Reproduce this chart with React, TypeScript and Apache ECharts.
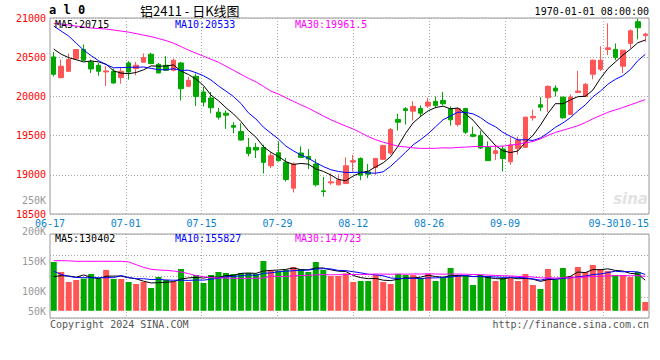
import React, { useEffect, useRef } from 'react';
import * as echarts from 'echarts';

// ---- data ----
const dates = [
  '06-17','06-18','06-19','06-20','06-21','06-24','06-25','06-26','06-27','06-28',
  '07-01','07-02','07-03','07-04','07-05','07-08','07-09','07-10','07-11','07-12',
  '07-15','07-16','07-17','07-18','07-19','07-22','07-23','07-24','07-25','07-26',
  '07-29','07-30','07-31','08-01','08-02','08-05','08-06','08-07','08-08','08-09',
  '08-12','08-13','08-14','08-15','08-16','08-19','08-20','08-21','08-22','08-23',
  '08-26','08-27','08-28','08-29','08-30','09-02','09-03','09-04','09-05','09-06',
  '09-09','09-10','09-11','09-12','09-13','09-18','09-19','09-20','09-23','09-24',
  '09-25','09-26','09-27','09-30','10-08','10-09','10-10','10-11','10-14','10-15'
];

const opens = [
  20504,20239,20320,20479,20598,20440,20397,20312,20320,20239,
  20427,20355,20436,20538,20410,20397,20333,20427,20128,20256,
  20056,19979,19799,19786,19628,19551,19350,19350,19350,19115,
  19282,19158,18829,19278,19235,19137,18795,18897,18872,18889,
  19162,19209,19038,19094,19197,19278,19705,19842,19812,19846,
  19876,19936,19949,19842,19641,19846,19513,19500,19350,19273,
  19329,19167,19337,19350,19727,19894,19983,20106,19991,19769,
  20051,20000,20282,20346,20599,20599,20385,20676,20953,20778
];
const closes = [
  20282,20385,20470,20598,20461,20350,20320,20325,20171,20320,
  20312,20397,20496,20419,20299,20333,20461,20098,20205,20000,
  19927,19855,19735,19761,19607,19444,19273,19316,19158,19244,
  19180,18940,19137,19222,19201,18872,18786,18910,18936,19115,
  19180,18995,19008,19209,19372,19577,19671,19821,19872,19786,
  19927,19885,19906,19701,19842,19543,19491,19342,19180,19307,
  19209,19381,19445,19735,19744,19863,20128,20068,19727,19991,
  20068,20154,20462,20462,20619,20496,20590,20837,20876,20795
];
const lows = [
  20256,20231,20312,20474,20449,20299,20265,20133,20162,20162,
  20214,20269,20436,20410,20291,20325,20320,19949,20128,19876,
  19872,19786,19705,19585,19530,19436,19235,19214,19017,19085,
  19167,18914,18774,19214,19073,18850,18722,18872,18863,18880,
  19043,18932,18957,18999,19188,19256,19564,19641,19692,19735,
  19855,19850,19885,19628,19615,19521,19479,19329,19180,19188,
  19042,19128,19256,19342,19692,19812,19799,20000,19714,19769,
  20042,20000,20218,20324,20526,20462,20299,20612,20727,20696
];
const highs = [
  20568,20470,20547,20600,20662,20470,20427,20385,20355,20363,
  20449,20440,20547,20556,20427,20513,20483,20440,20248,20291,
  20120,20056,19855,19821,19671,19658,19470,19406,19384,19286,
  19427,19214,19158,19363,19329,19201,18974,19017,19008,19222,
  19256,19222,19137,19209,19384,19598,19778,19863,19940,19885,
  19983,20000,20056,19872,19855,19855,19615,19564,19427,19384,
  19372,19478,19487,19744,19829,19991,20141,20141,19991,20026,
  20324,20171,20471,20641,20932,20676,20590,20855,20990,20812
];
const volumes = [
  148300,131700,115000,118300,120600,128300,120600,135000,120000,120000,
  115000,111700,115000,105000,123300,118300,116100,136700,115000,126700,
  113300,126700,131700,130000,128300,130000,130000,128300,150000,133300,
  133300,135000,140000,136700,131700,148300,135000,125000,125000,129400,
  115000,116700,116700,126700,115000,111700,128300,126700,126700,121700,
  128300,116700,121700,138300,125000,125000,110000,126700,125000,116700,
  121700,121700,116700,128300,110000,103300,136700,118300,138300,125000,
  140000,131700,143300,136700,133300,126700,126700,123300,131700,81700
];

// moving-average values before the window is full
const ma5Head = [20603, 20538, 20494, 20468];
const ma10Head = [20897, 20833, 20769, 20679, 20590, 20519, 20455, 20404, 20365];
const ma30Head = [
  20929,20923,20910,20897,20885,20872,20865,20859,20846,20833,
  20820,20801,20782,20763,20737,20712,20679,20635,20590,20551,
  20513,20474,20436,20385,20333,20282,20231,20186,20128
];
const volMa5Head = [124000, 125500, 125000, 123000];
const volMa10Head = [133000, 127500, 124500, 122500, 122200, 122200, 122200, 122200, 122200];
const volMa30Head = [
  150500,150500,150300,149500,149500,149500,149500,149500,149500,149500,
  148500,143900,139400,136200,135000,134500,133300,131700,129000,125600,
  123900,122200,121700,121700,121100,121100,121100,121200,121500
];

const labelDates = ['06-17','07-01','07-15','07-29','08-12','08-26','09-09','09-30','10-15'];
const gridDates = ['07-01','07-15','07-29','08-12','08-26','09-09','09-30'];
const volumeTicks = [50000, 100000, 150000, 200000, 250000];
const priceLegend = ['MA5:20715', 'MA10:20533', 'MA30:19961.5'];
const volumeLegend = ['MA5:130402', 'MA10:155827', 'MA30:147723'];

function movingAverage(values: number[], n: number, head: number[]) {
  return values.map((_, i) => {
    if (i < n - 1) return head[i];
    let s = 0;
    for (let k = i - n + 1; k <= i; k++) s += values[k];
    return +(s / n).toFixed(1);
  });
}

const RED = '#ff5555';
const GREEN = '#00a800';
const MONO = "'DejaVu Sans Mono', monospace";
const DOT = { color: '#aaaaaa', width: 1, type: [1, 2] as any };

export default function App() {
  const ref = useRef<HTMLDivElement>(null);
  useEffect(() => {
    document.body.style.margin = '0';
    const chart = echarts.init(ref.current!, null, { renderer: 'svg' });
    const candle = dates.map((_, i) => [opens[i], closes[i], lows[i], highs[i]]);
    const volData = volumes.map((v, i) => ({
      value: v,
      itemStyle: { color: closes[i] >= opens[i] ? RED : GREEN },
    }));
    const lineSeries = (name: string, data: number[], color: string, xi: number, yi: number) => ({
      name, type: 'line', data, xAxisIndex: xi, yAxisIndex: yi, showSymbol: false, symbol: 'none',
      lineStyle: { color, width: 1 }, silent: true,
    });
    const txt = (text: string, x: number, y: number, fill: string, font: string, align = 'left') => ({
      type: 'text', x, y, silent: true, z: 100,
      style: { text, fill, font, align, textAlign: align, verticalAlign: 'middle', textVerticalAlign: 'middle' },
    });
    const small = `10px ${MONO}`;
    const volTop = volumeTicks[volumeTicks.length - 1];
    const option: any = {
      animation: false,
      backgroundColor: '#fff',
      grid: [
        { left: 50, right: 11, top: 18, height: 196, show: true, borderColor: '#999', borderWidth: 1 },
        { left: 50, right: 11, top: 201, height: 120, show: false },
        { left: 50, right: 11, top: 234, height: 84, show: true, borderColor: '#999', borderWidth: 1 },
      ],
      xAxis: [
        { type: 'category', gridIndex: 0, position: 'bottom', data: dates, boundaryGap: true, show: false },
        {
          type: 'category', gridIndex: 0, position: 'bottom', data: dates, boundaryGap: false,
          axisLine: { show: false }, axisTick: { show: false },
          axisLabel: {
            interval: (_: number, v: string) => labelDates.includes(v),
            color: '#0a7fd0', fontFamily: MONO, fontSize: 10, margin: 4, alignMaxLabel: 'right',
          },
          splitLine: { show: true, interval: (_: number, v: string) => gridDates.includes(v), lineStyle: DOT },
        },
        { type: 'category', gridIndex: 1, position: 'bottom', data: dates, boundaryGap: true, show: false },
        {
          type: 'category', gridIndex: 2, position: 'bottom', data: dates, boundaryGap: false,
          axisLine: { show: false }, axisTick: { show: false }, axisLabel: { show: false },
          splitLine: { show: true, interval: (_: number, v: string) => gridDates.includes(v), lineStyle: DOT },
        },
      ],
      yAxis: [
        {
          type: 'value', gridIndex: 0, min: 18500, max: 21000, interval: 500,
          axisLine: { show: false }, axisTick: { show: false },
          axisLabel: { color: '#ff0000', fontFamily: MONO, fontSize: 10, margin: 4, formatter: (v: number) => String(v) },
          splitLine: { show: true, lineStyle: DOT },
        },
        {
          type: 'value', gridIndex: 1, min: 50000, max: volTop, interval: 50000, startValue: 67000,
          axisLine: { show: false }, axisTick: { show: false }, splitLine: { show: false },
          axisLabel: {
            color: '#999', fontFamily: MONO, fontSize: 10, margin: 4, showMinLabel: true,
            formatter: (v: number) => {
              if (!volumeTicks.includes(v) || v === volTop) return '';
              return v === volumeTicks[0] ? `${v / 1000}K\n \n ` : `${v / 1000}K`;
            },
          },
        },
        {
          type: 'value', gridIndex: 2, min: 0, max: 4, interval: 1,
          axisLine: { show: false }, axisTick: { show: false }, axisLabel: { show: false },
          splitLine: { show: true, lineStyle: DOT },
        },
      ],
      series: [
        {
          type: 'candlestick', xAxisIndex: 0, yAxisIndex: 0, data: candle, barWidth: 5,
          itemStyle: { color: RED, color0: GREEN, borderColor: RED, borderColor0: GREEN, borderWidth: 1 },
        },
        lineSeries('MA5', movingAverage(closes, 5, ma5Head), '#000000', 0, 0),
        lineSeries('MA10', movingAverage(closes, 10, ma10Head), '#0000ff', 0, 0),
        lineSeries('MA30', movingAverage(closes, 30, ma30Head), '#ff00ff', 0, 0),
        { type: 'bar', xAxisIndex: 2, yAxisIndex: 1, data: volData, barWidth: 6 },
        lineSeries('VMA5', movingAverage(volumes, 5, volMa5Head), '#000000', 2, 1),
        lineSeries('VMA10', movingAverage(volumes, 10, volMa10Head), '#0000ff', 2, 1),
        lineSeries('VMA30', movingAverage(volumes, 30, volMa30Head), '#ff00ff', 2, 1),
      ],
      graphic: [
        txt('a l 0', 49, 10, '#000', `bold 12px ${MONO}`),
        txt('铝2411 - 日K线图', 140, 10, '#000', "13px 'Noto Sans CJK SC'"),
        txt('1970-01-01 08:00:00', 649, 11, '#000', small, 'right'),
        txt(`${volTop / 1000}K`, 46, 200, '#999', small, 'right'),
        txt(priceLegend[0], 55, 24.5, '#000', small),
        txt(priceLegend[1], 175, 24.5, '#0000ff', small),
        txt(priceLegend[2], 295, 24.5, '#ff00ff', small),
        txt(volumeLegend[0], 55, 238.5, '#000', small),
        txt(volumeLegend[1], 175, 238.5, '#0000ff', small),
        txt(volumeLegend[2], 295, 238.5, '#ff00ff', small),
        txt('Copyright 2024 SINA.COM', 50, 324, '#555', small),
        txt('http://finance.sina.com.cn', 649, 324, '#555', small, 'right'),
        txt('sina', 648, 199, '#e2e2e2', `italic bold 15px 'DejaVu Sans'`, 'right'),
      ],
    };
    chart.setOption(option);
    return () => chart.dispose();
  }, []);
  return <div ref={ref} style={{ position: 'absolute', left: 0, top: 0, width: 660, height: 360 }} />;
}
